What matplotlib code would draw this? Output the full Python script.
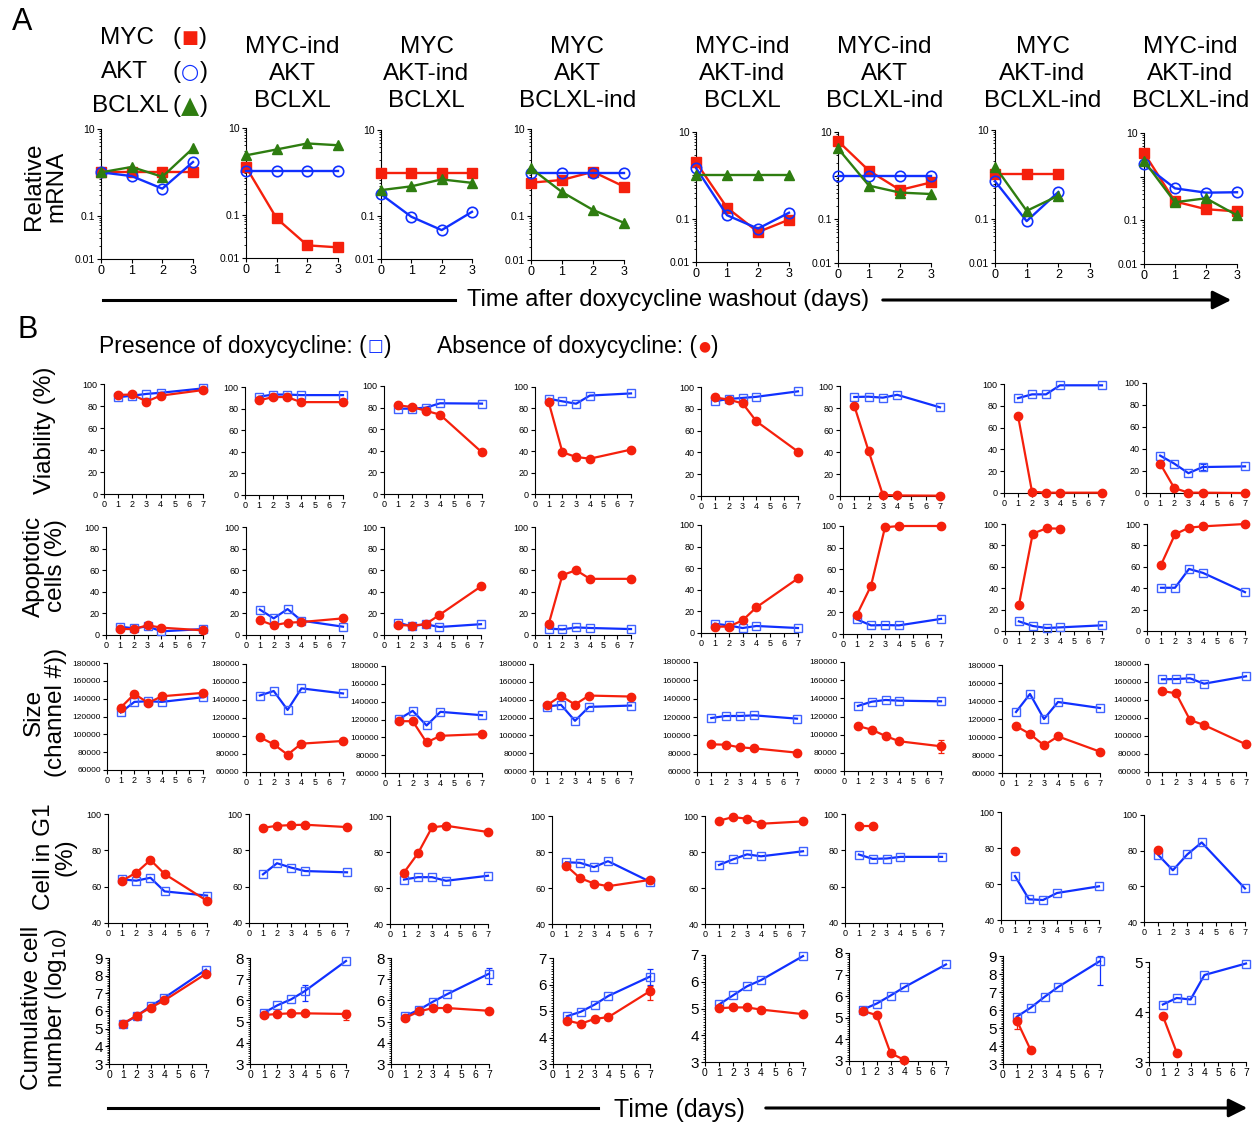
import numpy as np
import matplotlib
matplotlib.use('Agg')
import matplotlib.pyplot as plt
from matplotlib.ticker import LogLocator, MultipleLocator, NullFormatter

plt.rcParams['font.family'] = ['Liberation Sans', 'DejaVu Sans']

nan = np.nan

# ---------------- Panel A data (relative mRNA, log scale) ----------------
days_A = [0, 1, 2, 3]
titles_A = ["", "MYC-ind\nAKT\nBCLXL", "MYC\nAKT-ind\nBCLXL", "MYC\nAKT\nBCLXL-ind",
            "MYC-ind\nAKT-ind\nBCLXL", "MYC-ind\nAKT\nBCLXL-ind", "MYC\nAKT-ind\nBCLXL-ind",
            "MYC-ind\nAKT-ind\nBCLXL-ind"]
mrna_MYC = [
    [1.0, 1.0, 1.0, 1.0],
    [1.26, 0.082, 0.0196, 0.0176],
    [1.0, 1.0, 1.0, 1.0],
    [0.59, 0.68, 1.05, 0.48],
    [2.0, 0.18, 0.049, 0.095],
    [6.2, 1.3, 0.47, 0.70],
    [1.0, 1.0, 1.0, nan],
    [3.5, 0.27, 0.18, 0.16]]
mrna_AKT = [
    [1.0, 0.82, 0.42, 1.73],
    [1.0, 1.0, 1.0, 1.0],
    [0.32, 0.096, 0.047, 0.125],
    [1.0, 1.0, 1.0, 1.0],
    [1.48, 0.12, 0.059, 0.137],
    [1.0, 1.0, 1.0, 1.0],
    [0.70, 0.088, 0.40, nan],
    [1.9, 0.54, 0.43, 0.44]]
mrna_BCLXL = [
    [1.0, 1.33, 0.79, 3.6],
    [2.34, 3.2, 4.4, 4.0],
    [0.40, 0.49, 0.71, 0.59],
    [1.26, 0.36, 0.14, 0.071],
    [1.0, 1.0, 1.0, 1.0],
    [4.2, 0.59, 0.41, 0.38],
    [1.5, 0.15, 0.33, nan],
    [2.3, 0.26, 0.32, 0.13]]

# ---------------- Panel B data ----------------
days_B = [1, 2, 3, 4, 7]
viab_dox = [
    [88, 89.4, 91, 92, 96],
    [91, 93, 93, 92.5, 92.5],
    [79, 79, 80, 84, 83.7],
    [89, 86.6, 84.4, 92, 94],
    [87, 89, 90, 91, 96],
    [90, 90.3, 89.4, 92, 80.6],
    [87, 90.5, 90.5, 98.8, 98.8],
    [34, 26.7, 18, 23.6, 24.2]]
viab_nodox = [
    [90, 90.5, 84, 89.4, 94.5],
    [87.6, 90.7, 90.7, 86, 86],
    [82, 80.6, 77, 73.5, 38.5],
    [85.7, 39, 34.6, 33, 41.5],
    [90.5, 88.4, 85, 68.5, 40.7],
    [82, 41, 1, 0.5, 0.3],
    [71, 1.2, 0.3, 0.3, 0.3],
    [26.7, 4.5, 0.3, 0.3, 0.0]]
apop_dox = [
    [7.7, 6.2, 8, 3.4, 5.5],
    [23.5, 15.4, 24, 13.3, 7.7],
    [11.5, 8, 10, 7.4, 10],
    [5.9, 5.2, 7, 6.5, 5.5],
    [8.6, 7, 4.6, 6.5, 4.6],
    [13.5, 8, 8.3, 8, 14],
    [9, 4.7, 2.8, 3.4, 5.3],
    [40.4, 40.4, 58, 54.3, 36.3]]
apop_nodox = [
    [5.5, 5.5, 9, 6.8, 4.3],
    [13.6, 9, 11.4, 12, 15.4],
    [9.3, 8.7, 10, 18.6, 45],
    [10.2, 55.5, 60, 52, 52],
    [5.9, 5.9, 11.7, 23.8, 50.6],
    [18, 44.6, 98.8, 100, 100],
    [24, 91, 96, 95.6, nan],
    [61.8, 90.4, 96.6, 97.8, 100]]
size_dox = [
    [124500, 136400, 137100, 136400, 141600],
    [145000, 150000, 129000, 152900, 147300],
    [120400, 129700, 113300, 128600, 124800],
    [132300, 134200, 116300, 131900, 133400],
    [118900, 121100, 121100, 121800, 118200],
    [131600, 136300, 138200, 137400, 136700],
    [127800, 147800, 120000, 138900, 132200],
    [163000, 163300, 164100, 158100, 166300]]
size_nodox = [
    [130000, 145300, 135300, 142700, 146500],
    [98600, 90800, 79300, 91500, 94500],
    [118100, 118100, 94300, 101700, 103600],
    [133800, 144200, 134500, 144600, 143500],
    [90200, 89800, 86900, 85800, 81100],
    [109500, 105500, 98500, 92700, 87200],
    [112200, 103300, 90700, 100700, 83700],
    [150000, 147400, 117800, 112200, 90700]]
g1_dox = [
    [64, 63.3, 64.9, 57.4, 55.1],
    [66.8, 72.9, 70.5, 68.6, 67.9],
    [64.7, 66, 66, 64, 66.8],
    [74.3, 74, 71.6, 74.9, 63.5],
    [72.8, 75.9, 78.7, 77.6, 80.4],
    [77.7, 75.3, 75.5, 76.4, 76.4],
    [64.4, 51.5, 51.1, 55, 58.7],
    [77.5, 69, 77.9, 84.6, 58.8]]
g1_nodox = [
    [63.3, 67.7, 74.7, 67, 52.2],
    [92.4, 93.5, 93.9, 94.1, 92.8],
    [68.6, 79.3, 93.7, 94.6, 91.1],
    [72.5, 65.5, 62.5, 61, 64.5],
    [97.4, 99.4, 98.5, 95.7, 97],
    [93.6, 93.6, nan, nan, nan],
    [78.3, nan, nan, nan, nan],
    [80.3, nan, nan, nan, nan]]
cum_dox = [
    [5.26, 5.72, 6.28, 6.75, 8.34],
    [5.41, 5.77, 6.05, 6.44, 7.86],
    [5.26, 5.56, 5.94, 6.29, 7.26],
    [4.80, 4.97, 5.24, 5.57, 6.3],
    [5.15, 5.49, 5.83, 6.06, 6.96],
    [5.38, 5.66, 6.03, 6.42, 7.47],
    [5.63, 6.13, 6.73, 7.29, 8.72],
    [4.15, 4.28, 4.25, 4.74, 4.97]]
cum_nodox = [
    [5.28, 5.74, 6.19, 6.6, 8.11],
    [5.31, 5.36, 5.39, 5.39, 5.36],
    [5.17, 5.48, 5.64, 5.64, 5.51],
    [4.64, 4.52, 4.70, 4.77, 5.75],
    [5.01, 5.04, 5.04, 4.96, 4.79],
    [5.32, 5.12, 3.36, 3.05, nan],
    [5.41, 3.77, nan, nan, nan],
    [3.92, 3.19, nan, nan, nan]]
cum_top = [9, 8, 8, 7, 7, 8, 9, 5]
# error bars: (row, column, series, day, lower, upper)
err_bars = [
    (0, 1, 'nodox', 7, 2, 2),
    (0, 7, 'dox', 4, 3, 3),
    (2, 5, 'nodox', 7, 7000, 7000),
    (4, 1, 'dox', 4, 0.45, 0.3),
    (4, 1, 'nodox', 7, 0.3, 0.2),
    (4, 2, 'dox', 7, 0.5, 0.25),
    (4, 3, 'dox', 7, 0.3, 0.3),
    (4, 3, 'nodox', 7, 0.35, 0.2),
    (4, 6, 'dox', 7, 1.35, 0.3),
    (4, 6, 'nodox', 1, 0.45, 0.1)]

row_labels = ["Viability (%)", "Apoptotic\ncells (%)", "Size\n(channel #))",
              "Cell in G1\n(%)", "Cumulative cell\nnumber (log$_{10}$)"]

# ---------------- styling / layout ----------------
RED = '#f5200c'
BLUE = '#1030ff'
BLUE_M = '#3f62ff'
GREEN = '#2e7d10'
W, H = 1252, 1123

fig = plt.figure(figsize=(W / 100, H / 100), dpi=100)
ov = fig.add_axes([0, 0, 1, 1])
ov.set_xlim(0, W)
ov.set_ylim(H, 0)
ov.axis('off')


def box(x0, x1, yt, yb):
    return fig.add_axes([x0 / W, 1 - yb / H, (x1 - x0) / W, (yb - yt) / H])


def style(ax, sx, sy):
    for s in ['top', 'right']:
        ax.spines[s].set_visible(False)
    for s in ['left', 'bottom']:
        ax.spines[s].set_linewidth(0.8)
    ax.tick_params(direction='out', length=3, width=0.8, pad=1.5)
    ax.tick_params(which='minor', direction='out', length=1.6, width=0.6)
    ax.tick_params(axis='x', labelsize=sx)
    ax.tick_params(axis='y', labelsize=sy)


# Panel A
A_x = [(101, 193), (246, 338), (381, 472), (531, 624), (696, 789), (838, 931), (995, 1090), (1144, 1237)]
A_y = [(129, 259), (128, 258), (130, 259), (129, 260), (132, 262), (132, 263), (130, 263), (133, 264)]
for i in range(8):
    ax = box(*A_x[i], *A_y[i])
    ax.set_yscale('log')
    ax.set_ylim(0.01, 10)
    ax.set_xlim(0, 3)
    ax.plot(days_A, mrna_MYC[i], color=RED, marker='s', ms=7, lw=1.7, clip_on=False, zorder=3)
    ax.plot(days_A, mrna_AKT[i], color=BLUE, marker='o', mfc='none', mew=1.2, ms=7.5, lw=1.7,
            clip_on=False, zorder=3)
    ax.plot(days_A, mrna_BCLXL[i], color=GREEN, marker='^', ms=7.5, lw=1.7, clip_on=False, zorder=3)
    ax.set_xticks(days_A)
    ax.set_yticks([0.01, 0.1, 1, 10])
    ax.set_yticklabels(['0.01', '0.1', '', '10'])
    ax.yaxis.set_minor_locator(LogLocator(subs=np.arange(2, 10)))
    ax.yaxis.set_minor_formatter(NullFormatter())
    style(ax, 9, 7.5)
    if titles_A[i]:
        ov.text((A_x[i][0] + A_x[i][1]) / 2, 74, titles_A[i], ha='center', va='center',
                fontsize=17.5, linespacing=1.28)

# chained text helper
fig.canvas.draw()
rend = fig.canvas.get_renderer()


def chain(x, y, pieces, size):
    for s, col, fam, sz in pieces:
        t = ov.text(x, y, s, color=col, fontsize=sz, va='center', ha='left',
                    family=fam)
        x = t.get_window_extent(rend).x1 + 1


LS = 'Liberation Sans'
DV = 'DejaVu Sans'
ov.text(100, 38, "MYC", fontsize=17.5, va='center')
ov.text(101, 72, "AKT", fontsize=17.5, va='center')
ov.text(92, 106, "BCLXL", fontsize=17.5, va='center')
chain(172, 38, [("(", 'k', LS, 17.5), ("■", RED, DV, 13), (")", 'k', LS, 17.5)], 17)
chain(172, 72, [("(", 'k', LS, 17.5), ("○", BLUE, DV, 15), (")", 'k', LS, 17.5)], 17)
chain(172, 106, [("(", 'k', LS, 17.5), ("▲", GREEN, DV, 17), (")", 'k', LS, 17.5)], 17)

ov.text(45, 186, "Relative\nmRNA", rotation=90, fontsize=17.5, ha='center', va='center', linespacing=1.0)
ov.text(22, 22, "A", fontsize=22, ha='center', va='center')
ov.plot([103, 455], [300, 300], color='k', lw=2.2)
ov.text(668, 300, "Time after doxycycline washout (days)", fontsize=17, ha='center', va='center')
ov.annotate('', xy=(1234, 300), xytext=(880, 300),
            arrowprops=dict(arrowstyle='-|>', color='k', lw=2.2, mutation_scale=28))

# Panel B header
ov.text(28, 330, "B", fontsize=22, ha='center', va='center')
chain(99, 346, [("Presence of doxycycline: (", 'k', LS, 16.5), ("□", BLUE, DV, 12),
                (")", 'k', LS, 16.5)], 16.5)
chain(437, 346, [("Absence of doxycycline: (", 'k', LS, 16.5), ("●", RED, DV, 10),
                 (")", 'k', LS, 16.5)], 16.5)

BX = [
    [(104, 203), (245, 343), (384, 482), (535, 631), (701, 798), (840, 940), (1004, 1102), (1146, 1245)],
    [(106, 203), (246, 343), (384, 481), (535, 631), (701, 798), (843, 941), (1005, 1102), (1147, 1245)],
    [(107, 203), (246, 343), (385, 482), (533, 631), (697, 797), (844, 941), (1002, 1100), (1148, 1246)],
    [(108, 207), (249, 347), (390, 488), (552, 650), (705, 803), (845, 942), (1001, 1099), (1144, 1245)],
    [(109, 206), (250, 346), (391, 489), (553, 650), (705, 803), (849, 946), (1003, 1100), (1149, 1246)]]
BY = [
    [(384, 494), (387, 495), (386, 494), (387, 494), (387, 496), (386, 496), (384, 493), (383, 493)],
    [(527, 635), (527, 635), (527, 635), (527, 635), (525, 633), (526, 634), (524, 631), (524, 631)],
    [(663, 770), (664, 772), (666, 773), (664, 771), (662, 772), (662, 771), (665, 773), (664, 772)],
    [(814, 923), (814, 923), (816, 924), (816, 924), (816, 924), (814, 923), (812, 920), (815, 922)],
    [(958, 1064), (958, 1064), (958, 1064), (958, 1064), (955, 1062), (953, 1061), (956, 1064), (962, 1062)]]

series = [(viab_dox, viab_nodox), (apop_dox, apop_nodox), (size_dox, size_nodox),
          (g1_dox, g1_nodox), (cum_dox, cum_nodox)]
axes_B = {}
for r in range(5):
    dox, nodox = series[r]
    for c in range(8):
        ax = box(*BX[r][c], *BY[r][c])
        axes_B[(r, c)] = ax
        ax.plot(days_B, dox[c], color=BLUE, marker='s', mfc='none', mec=BLUE_M, ms=5.5, mew=1.0,
                lw=1.6, clip_on=False, zorder=3)
        ax.plot(days_B, nodox[c], color=RED, marker='o', ms=6, lw=1.6, clip_on=False, zorder=4)
        ax.set_xlim(0, 7)
        ax.set_xticks(range(8))
        if r in (0, 1):
            ax.set_ylim(0, 100)
            ax.set_yticks(range(0, 101, 20))
            style(ax, 6.5, 6.5)
        elif r == 2:
            ax.set_ylim(60000, 180000)
            ax.set_yticks(range(60000, 180001, 20000))
            style(ax, 6.5, 6)
        elif r == 3:
            ax.set_ylim(40, 100)
            ax.set_yticks([40, 60, 80, 100])
            style(ax, 6.5, 6.5)
        else:
            ax.set_ylim(3, cum_top[c])
            ax.set_yticks(range(3, cum_top[c] + 1))
            ax.yaxis.set_minor_locator(MultipleLocator(0.1))
            style(ax, 7.5, 11)

for r, c, s, d, lo, hi in err_bars:
    dox, nodox = series[r]
    arr = dox if s == 'dox' else nodox
    v = arr[c][days_B.index(d)]
    col = BLUE if s == 'dox' else RED
    axes_B[(r, c)].errorbar([d], [v], yerr=[[lo], [hi]], fmt='none', ecolor=col, elinewidth=0.9,
                            capsize=2.5, capthick=0.9, clip_on=False, zorder=2)

label_pos = [(45, 430), (45, 566), (45, 712), (55, 857), (45, 1008)]
for lab, (x, y) in zip(row_labels, label_pos):
    ov.text(x, y, lab, rotation=90, fontsize=17.5, ha='center', va='center', linespacing=1.0)

ov.plot([108, 598], [1108, 1108], color='k', lw=2.2)
ov.text(679, 1110, "Time (days)", fontsize=18, ha='center', va='center')
ov.annotate('', xy=(1250, 1108), xytext=(763, 1108),
            arrowprops=dict(arrowstyle='-|>', color='k', lw=2.2, mutation_scale=28))

fig.savefig('out.png', dpi=100)
